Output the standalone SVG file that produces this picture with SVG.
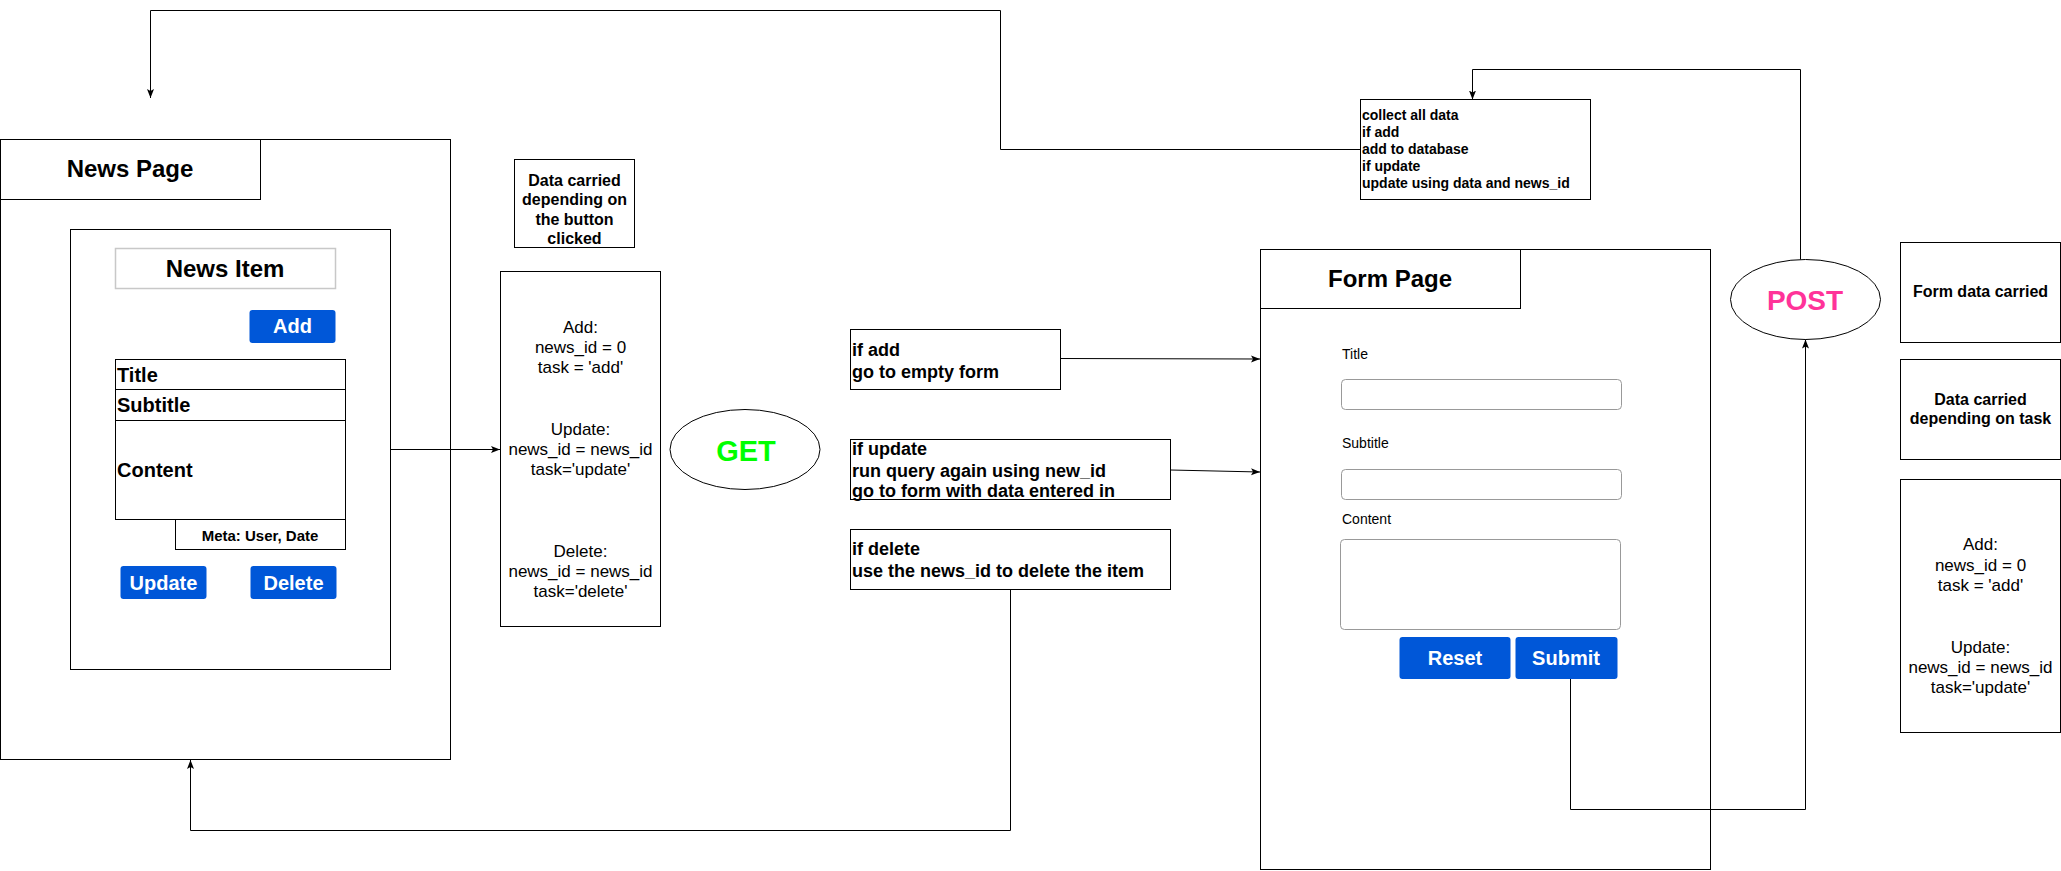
<svg xmlns="http://www.w3.org/2000/svg" width="2061" height="871" viewBox="0 0 2061 871">
<style>
  .box{fill:#fff;stroke:#000;stroke-width:1}
  .gbox{fill:#fff;stroke:#c8c8c8;stroke-width:1.5}
  .inp{fill:#fff;stroke:#999;stroke-width:1}
  .btn{fill:#0057D8;stroke:none}
  .btxt{font-family:"Liberation Sans",Arial,sans-serif;font-weight:bold;font-size:20px;fill:#fff;text-anchor:middle}
  .h{font-family:"Liberation Sans",Arial,sans-serif;font-weight:bold;font-size:24px;fill:#000;text-anchor:middle}
  .fld{font-family:"Liberation Sans",Arial,sans-serif;font-weight:bold;font-size:20px;fill:#000}
  .b16{font-family:"Liberation Sans",Arial,sans-serif;font-weight:bold;font-size:16px;fill:#000;text-anchor:middle}
  .b18{font-family:"Liberation Sans",Arial,sans-serif;font-weight:bold;font-size:18px;fill:#000}
  .b14{font-family:"Liberation Sans",Arial,sans-serif;font-weight:bold;font-size:14px;fill:#000}
  .r17{font-family:"Liberation Sans",Arial,sans-serif;font-size:17px;fill:#000;text-anchor:middle}
  .r14{font-family:"Liberation Sans",Arial,sans-serif;font-size:14px;fill:#000}
  .conn{fill:none;stroke:#000;stroke-width:1}
</style>
<defs>
  <marker id="arr" markerUnits="userSpaceOnUse" markerWidth="10" markerHeight="8" refX="9" refY="3.5" orient="auto">
    <path d="M0,0 L9,3.5 L0,7 L2,3.5 z" fill="#000"/>
  </marker>
</defs>
<rect width="2061" height="871" fill="#fff"/>

<g id="news-page">
  <rect class="box" x="0.5" y="139.5" width="450" height="620"/>
  <rect class="box" x="0.5" y="139.5" width="260" height="60"/>
  <text class="h" x="130" y="177">News Page</text>
</g>

<g id="news-item-card">
  <rect class="box" x="70.5" y="229.5" width="320" height="440"/>
  <rect class="gbox" x="115.5" y="248.5" width="220" height="40"/>
  <text class="h" x="225" y="277">News Item</text>
</g>

<g id="btn-add">
  <rect class="btn" x="249.5" y="310" width="86" height="33" rx="3"/>
  <text class="btxt" x="292.5" y="333">Add</text>
</g>

<g id="field-title">
  <rect class="box" x="115.5" y="359.5" width="230" height="30"/>
  <text class="fld" x="117" y="382">Title</text>
</g>
<g id="field-subtitle">
  <rect class="box" x="115.5" y="389.5" width="230" height="31"/>
  <text class="fld" x="117" y="412">Subtitle</text>
</g>
<g id="field-content">
  <rect class="box" x="115.5" y="420.5" width="230" height="99"/>
  <text class="fld" x="117" y="477">Content</text>
</g>
<g id="field-meta">
  <rect class="box" x="175.5" y="519.5" width="170" height="30"/>
  <text class="b16" x="260" y="541" style="font-size:15px">Meta: User, Date</text>
</g>

<g id="btn-update">
  <rect class="btn" x="120.5" y="566" width="86" height="33" rx="3"/>
  <text class="btxt" x="163.5" y="590">Update</text>
</g>
<g id="btn-delete">
  <rect class="btn" x="250.5" y="566" width="86" height="33" rx="3"/>
  <text class="btxt" x="293.5" y="590">Delete</text>
</g>

<g id="data-carried-label">
  <rect class="box" x="514.5" y="159.5" width="120" height="88"/>
  <text class="b16" x="574.5" y="186">Data carried</text>
  <text class="b16" x="574.5" y="205">depending on</text>
  <text class="b16" x="574.5" y="225">the button</text>
  <text class="b16" x="574.5" y="244">clicked</text>
</g>

<g id="data-list">
  <rect class="box" x="500.5" y="271.5" width="160" height="355"/>
  <text class="r17" x="580.5" y="333">Add:</text>
  <text class="r17" x="580.5" y="353">news_id = 0</text>
  <text class="r17" x="580.5" y="373">task = 'add'</text>
  <text class="r17" x="580.5" y="435">Update:</text>
  <text class="r17" x="580.5" y="455">news_id = news_id</text>
  <text class="r17" x="580.5" y="475">task='update'</text>
  <text class="r17" x="580.5" y="557">Delete:</text>
  <text class="r17" x="580.5" y="577">news_id = news_id</text>
  <text class="r17" x="580.5" y="597">task='delete'</text>
</g>

<g id="get">
  <ellipse cx="745" cy="449.5" rx="75" ry="40" fill="#fff" stroke="#000" stroke-width="1"/>
  <text x="746" y="461" text-anchor="middle" style="font-family:'Liberation Sans',Arial,sans-serif;font-weight:bold;font-size:29px;fill:#00FF00">GET</text>
</g>

<g id="if-add">
  <rect class="box" x="850.5" y="329.5" width="210" height="60"/>
  <text class="b18" x="852" y="356">if add</text>
  <text class="b18" x="852" y="378">go to empty form</text>
</g>
<g id="if-update">
  <rect class="box" x="850.5" y="439.5" width="320" height="60"/>
  <text class="b18" x="852" y="455">if update</text>
  <text class="b18" x="852" y="477">run query again using new_id</text>
  <text class="b18" x="852" y="497">go to form with data entered in</text>
</g>
<g id="if-delete">
  <rect class="box" x="850.5" y="529.5" width="320" height="60"/>
  <text class="b18" x="852" y="555">if delete</text>
  <text class="b18" x="852" y="577">use the news_id to delete the item</text>
</g>

<g id="collect">
  <rect class="box" x="1360.5" y="99.5" width="230" height="100"/>
  <text class="b14" x="1362" y="120">collect all data</text>
  <text class="b14" x="1362" y="137">if add</text>
  <text class="b14" x="1362" y="154">add to database</text>
  <text class="b14" x="1362" y="171">if update</text>
  <text class="b14" x="1362" y="188">update using data and news_id</text>
</g>

<g id="form-page">
  <rect class="box" x="1260.5" y="249.5" width="450" height="620"/>
  <rect class="box" x="1260.5" y="249.5" width="260" height="59"/>
  <text class="h" x="1390" y="287">Form Page</text>
  <text class="r14" x="1342" y="359">Title</text>
  <rect class="inp" x="1341.5" y="379.5" width="280" height="30" rx="4"/>
  <text class="r14" x="1342" y="448">Subtitle</text>
  <rect class="inp" x="1341.5" y="469.5" width="280" height="30" rx="4"/>
  <text class="r14" x="1342" y="524">Content</text>
  <rect class="inp" x="1340.5" y="539.5" width="280" height="90" rx="4"/>
</g>
<g id="btn-reset">
  <rect class="btn" x="1399.5" y="637" width="111" height="42" rx="3"/>
  <text class="btxt" x="1455" y="665">Reset</text>
</g>
<g id="btn-submit">
  <rect class="btn" x="1515.5" y="637" width="102" height="42" rx="3"/>
  <text class="btxt" x="1566" y="665">Submit</text>
</g>

<g id="post">
  <ellipse cx="1805.5" cy="299.5" rx="75" ry="40" fill="#fff" stroke="#000" stroke-width="1"/>
  <text x="1805" y="309.5" text-anchor="middle" style="font-family:'Liberation Sans',Arial,sans-serif;font-weight:bold;font-size:28px;fill:#FF3399">POST</text>
</g>

<g id="form-data-carried">
  <rect class="box" x="1900.5" y="242.5" width="160" height="100"/>
  <text class="b16" x="1980.5" y="297">Form data carried</text>
</g>
<g id="data-carried-task">
  <rect class="box" x="1900.5" y="359.5" width="160" height="100"/>
  <text class="b16" x="1980.5" y="405">Data carried</text>
  <text class="b16" x="1980.5" y="424">depending on task</text>
</g>
<g id="data-list-2">
  <rect class="box" x="1900.5" y="479.5" width="160" height="253"/>
  <text class="r17" x="1980.5" y="550">Add:</text>
  <text class="r17" x="1980.5" y="571">news_id = 0</text>
  <text class="r17" x="1980.5" y="591">task = 'add'</text>
  <text class="r17" x="1980.5" y="653">Update:</text>
  <text class="r17" x="1980.5" y="673">news_id = news_id</text>
  <text class="r17" x="1980.5" y="693">task='update'</text>
</g>

<g id="connectors">
  <path class="conn" d="M390.5,449.5 H500" marker-end="url(#arr)"/>
  <path class="conn" d="M1060.5,358.5 L1260,359" marker-end="url(#arr)"/>
  <path class="conn" d="M1170.5,470 L1260,472" marker-end="url(#arr)"/>
  <path class="conn" d="M1010.5,590 V830.5 H190.5 V760" marker-end="url(#arr)"/>
  <path class="conn" d="M1570.5,679 V809.5 H1805.5 V339.5" marker-end="url(#arr)"/>
  <path class="conn" d="M1800.5,259.5 V69.5 H1472.5 V99.5" marker-end="url(#arr)"/>
  <path class="conn" d="M1360.5,149.5 H1000.5 V10.5 H150.5 V98" marker-end="url(#arr)"/>
</g>
</svg>
